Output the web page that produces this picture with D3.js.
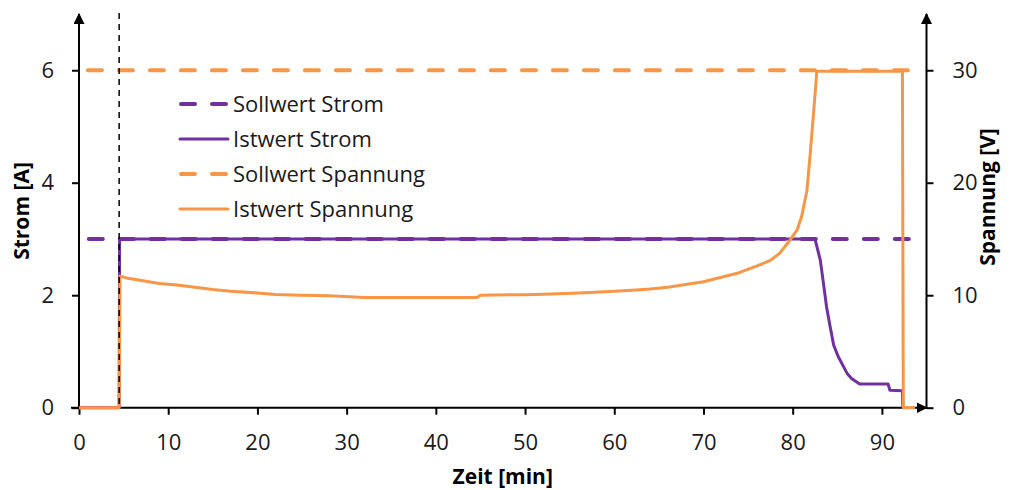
<!DOCTYPE html>
<html>
<head>
<meta charset="utf-8">
<script src="https://cdn.jsdelivr.net/npm/d3@7"></script>
<style>
  body { margin: 0; background: #fff; }
  svg { font-family: "Open Sans", "Noto Sans", sans-serif; }
</style>
</head>
<body>
<svg id="chart"></svg>
<script>
const width = 1013;
const height = 490;

const PURPLE = "#7030A0";
const ORANGE = "#F79646";

// Istwert Spannung (V) over time (min)
const spannungZeit = [0, 4.5, 4.6, 5.5, 7, 9, 11, 13, 15, 17, 20, 22, 25, 28, 32, 38, 44.6, 45, 50, 53, 56, 59, 62, 64, 66, 68, 70, 72, 74, 76, 77.5, 78.5, 79.7, 80.5, 81, 81.6, 82, 82.3, 82.6, 82.7, 92.3, 92.4, 93.7];
const spannungIst = [0, 0, 11.7, 11.5, 11.3, 11.05, 10.9, 10.7, 10.5, 10.35, 10.2, 10.07, 10.0, 9.95, 9.8, 9.8, 9.8, 10.0, 10.05, 10.1, 10.2, 10.3, 10.45, 10.55, 10.7, 10.95, 11.2, 11.6, 12.0, 12.6, 13.1, 13.7, 14.9, 15.8, 17.0, 19.3, 22.9, 25.8, 28.8, 29.9, 29.9, 0, 0];

// Istwert Strom (A) over time (min)
const stromZeit = [0, 4.5, 4.55, 82.5, 83.1, 83.45, 83.8, 84.2, 84.6, 85.1, 85.7, 86.1, 86.6, 87.5, 90.7, 90.9, 92.3, 92.35];
const stromIst = [0, 0, 3.0, 3.0, 2.62, 2.21, 1.79, 1.44, 1.11, 0.91, 0.73, 0.61, 0.52, 0.42, 0.42, 0.31, 0.30, 0];

// Sollwerte
const sollStromZeit = [1.1, 93.5];
const sollStrom = [3, 3];
const sollSpannungZeit = [1.0, 93.7];
const sollSpannung = [30, 30];

// start marker (dashed vertical)
const startZeit = 4.5;

const xTicks = [0, 10, 20, 30, 40, 50, 60, 70, 80, 90];
const yLeftTicks = [0, 2, 4, 6];
const yRightTicks = [0, 10, 20, 30];

const legendLabels = ["Sollwert Strom", "Istwert Strom", "Sollwert Spannung", "Istwert Spannung"];

const plot = {left: 79, right: 926.5, top: 14, bottom: 407.7};

const svg = d3.select("#chart")
    .attr("width", width)
    .attr("height", height);

const x = d3.scaleLinear().domain([0, 95]).range([plot.left, plot.right]);
const yA = d3.scaleLinear().domain([0, 7]).range([plot.bottom, plot.top]);
const yV = d3.scaleLinear().domain([0, 35]).range([plot.bottom, plot.top]);

// arrow head
svg.append("defs").append("marker")
    .attr("id", "arrow")
    .attr("viewBox", "0 0 10 10")
    .attr("refX", 9).attr("refY", 5)
    .attr("markerWidth", 11).attr("markerHeight", 11)
    .attr("markerUnits", "userSpaceOnUse")
    .attr("orient", "auto")
    .append("path")
    .attr("d", "M0,0 L10,5 L0,10 z")
    .attr("fill", "#000");

// axes with d3, domain lines replaced by own arrowed lines
const fontSize = 22;
const fmt = d3.format("d");

let gx = svg.append("g")
    .attr("transform", `translate(0,${plot.bottom})`)
    .call(d3.axisBottom(x).tickValues(xTicks).tickFormat(fmt).tickSize(7).tickPadding(20));

let gl = svg.append("g")
    .attr("transform", `translate(${plot.left},0)`)
    .call(d3.axisLeft(yA).tickValues(yLeftTicks).tickFormat(fmt).tickSize(7).tickPadding(18));

let gr = svg.append("g")
    .attr("transform", `translate(${plot.right},0)`)
    .call(d3.axisRight(yV).tickValues(yRightTicks).tickFormat(fmt).tickSize(7).tickPadding(19));

[gx, gl, gr].forEach(g => {
    g.select(".domain").remove();
    g.selectAll(".tick line").attr("stroke", "#000").attr("stroke-width", 2);
    g.selectAll(".tick text")
        .attr("font-size", fontSize)
        .attr("fill", "#1a1a1a")
        .style("font-family", "'Open Sans', sans-serif");
});

// axis lines
svg.append("line")
    .attr("x1", plot.left - 8).attr("x2", plot.right)
    .attr("y1", plot.bottom).attr("y2", plot.bottom)
    .attr("stroke", "#000").attr("stroke-width", 2)
    .attr("marker-end", "url(#arrow)");
svg.append("line")
    .attr("x1", plot.left).attr("x2", plot.left)
    .attr("y1", plot.bottom + 1).attr("y2", plot.top)
    .attr("stroke", "#000").attr("stroke-width", 2)
    .attr("marker-end", "url(#arrow)");
svg.append("line")
    .attr("x1", plot.right).attr("x2", plot.right)
    .attr("y1", plot.bottom + 1).attr("y2", plot.top)
    .attr("stroke", "#000").attr("stroke-width", 2)
    .attr("marker-end", "url(#arrow)");

// series
const zip = (a, b) => a.map((t, i) => [t, b[i]]);

const lineA = d3.line().x(d => x(d[0])).y(d => yA(d[1]));
const lineV = d3.line().x(d => x(d[0])).y(d => yV(d[1]));

const dash = "14,17";

svg.append("path")
    .datum(zip(sollStromZeit, sollStrom))
    .attr("d", lineA)
    .attr("fill", "none").attr("stroke", PURPLE)
    .attr("stroke-width", 4).attr("stroke-linecap", "round")
    .attr("stroke-dasharray", dash);

svg.append("path")
    .datum(zip(stromZeit, stromIst))
    .attr("d", lineA)
    .attr("fill", "none").attr("stroke", PURPLE)
    .attr("stroke-width", 3).attr("stroke-linejoin", "round");

svg.append("path")
    .datum(zip(sollSpannungZeit, sollSpannung))
    .attr("d", lineV)
    .attr("fill", "none").attr("stroke", ORANGE)
    .attr("stroke-width", 4).attr("stroke-linecap", "round")
    .attr("stroke-dasharray", dash);

svg.append("path")
    .datum(zip(spannungZeit, spannungIst))
    .attr("d", lineV)
    .attr("fill", "none").attr("stroke", ORANGE)
    .attr("stroke-width", 3).attr("stroke-linejoin", "round");

// start of measurement, dashed black
svg.append("line")
    .attr("x1", x(startZeit)).attr("x2", x(startZeit))
    .attr("y1", plot.top - 1).attr("y2", plot.bottom)
    .attr("stroke", "#000").attr("stroke-width", 1.5)
    .attr("stroke-dasharray", "6,5");

// axis titles
svg.append("text")
    .attr("transform", `translate(29,211) rotate(-90)`)
    .attr("text-anchor", "middle")
    .attr("font-size", fontSize - 1).attr("font-weight", "bold")
    .text("Strom [A]");

svg.append("text")
    .attr("transform", `translate(995,197) rotate(-90)`)
    .attr("text-anchor", "middle")
    .attr("font-size", fontSize - 1).attr("font-weight", "bold")
    .text("Spannung [V]");

svg.append("text")
    .attr("x", (plot.left + plot.right) / 2).attr("y", 484)
    .attr("text-anchor", "middle")
    .attr("font-size", fontSize - 1).attr("font-weight", "bold")
    .text("Zeit [min]");

// legend
const legendColors = [PURPLE, PURPLE, ORANGE, ORANGE];
const legendDashed = [true, false, true, false];
const legendY = d3.scalePoint().domain(legendLabels).range([104, 209]);

const lg = svg.append("g");
legendLabels.forEach((lbl, i) => {
    const yy = legendY(lbl);
    lg.append("line")
        .attr("x1", legendDashed[i] ? 181 : 180).attr("x2", legendDashed[i] ? 226 : 228)
        .attr("y1", yy).attr("y2", yy)
        .attr("stroke", legendColors[i])
        .attr("stroke-width", legendDashed[i] ? 4 : 3)
        .attr("stroke-linecap", "round")
        .attr("stroke-dasharray", legendDashed[i] ? dash : null);
    lg.append("text")
        .attr("x", 233).attr("y", yy)
        .attr("dy", "0.35em")
        .attr("font-size", fontSize)
        .attr("fill", "#1a1a1a")
        .text(lbl);
});
</script>
</body>
</html>
